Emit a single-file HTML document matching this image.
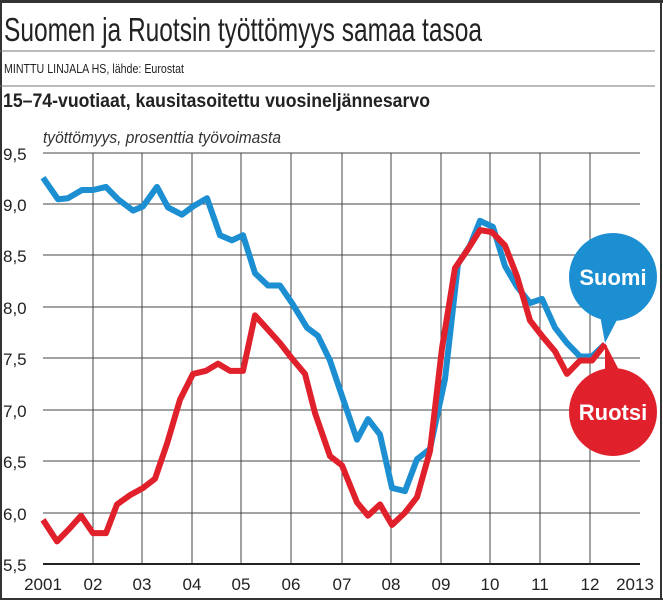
<!DOCTYPE html>
<html><head><meta charset="utf-8"><style>
html,body{margin:0;padding:0;background:#fff}
svg{display:block}
text{font-family:"Liberation Sans",sans-serif}
</style></head><body>
<svg width="663" height="600" viewBox="0 0 663 600">
<rect x="0" y="0" width="663" height="600" fill="#fff"/>
<line x1="0" y1="1.5" x2="663" y2="1.5" stroke="#333" stroke-width="3"/>
<line x1="1" y1="0" x2="1" y2="600" stroke="#333" stroke-width="2"/>
<line x1="661" y1="0" x2="661" y2="600" stroke="#333" stroke-width="2"/>
<line x1="0" y1="599" x2="663" y2="599" stroke="#333" stroke-width="2"/>
<text x="4" y="41" font-size="33" fill="#222" textLength="478" lengthAdjust="spacingAndGlyphs">Suomen ja Ruotsin työttömyys samaa tasoa</text>
<line x1="0" y1="51" x2="655" y2="51" stroke="#777" stroke-width="1"/>
<text x="4" y="73" font-size="13" fill="#222" textLength="180" lengthAdjust="spacingAndGlyphs">MINTTU LINJALA HS, lähde: Eurostat</text>
<line x1="0" y1="86" x2="655" y2="86" stroke="#777" stroke-width="1"/>
<text x="3" y="107" font-size="19" font-weight="bold" fill="#222" textLength="427" lengthAdjust="spacingAndGlyphs">15–74-vuotiaat, kausitasoitettu vuosineljännesarvo</text>
<text x="43" y="143" font-size="17" font-style="italic" fill="#333" textLength="238" lengthAdjust="spacingAndGlyphs">työttömyys, prosenttia työvoimasta</text>
<g stroke="#444" stroke-width="1">
<line x1="43" y1="153" x2="640" y2="153"/><line x1="43" y1="204" x2="640" y2="204"/>
<line x1="43" y1="255" x2="640" y2="255"/><line x1="43" y1="307" x2="640" y2="307"/>
<line x1="43" y1="358" x2="640" y2="358"/><line x1="43" y1="410" x2="640" y2="410"/>
<line x1="43" y1="461" x2="640" y2="461"/><line x1="43" y1="513" x2="640" y2="513"/>
<line x1="93" y1="153" x2="93" y2="564"/><line x1="142" y1="153" x2="142" y2="564"/>
<line x1="192" y1="153" x2="192" y2="564"/><line x1="241" y1="153" x2="241" y2="564"/>
<line x1="291" y1="153" x2="291" y2="564"/><line x1="342" y1="153" x2="342" y2="564"/>
<line x1="391" y1="153" x2="391" y2="564"/><line x1="441" y1="153" x2="441" y2="564"/>
<line x1="490" y1="153" x2="490" y2="564"/><line x1="540" y1="153" x2="540" y2="564"/>
<line x1="590" y1="153" x2="590" y2="564"/>
</g>
<line x1="43" y1="564" x2="640" y2="564" stroke="#222" stroke-width="2"/>
<g font-size="17" fill="#222">
<text x="3" y="160">9,5</text><text x="3" y="211">9,0</text><text x="3" y="262">8,5</text>
<text x="3" y="314">8,0</text><text x="3" y="365">7,5</text><text x="3" y="417">7,0</text>
<text x="3" y="468">6,5</text><text x="3" y="520">6,0</text><text x="3" y="571">5,5</text>
</g>
<g font-size="17" fill="#222" text-anchor="middle">
<text x="43" y="590">2001</text><text x="93" y="590">02</text><text x="142" y="590">03</text>
<text x="192" y="590">04</text><text x="241" y="590">05</text><text x="291" y="590">06</text>
<text x="342" y="590">07</text><text x="391" y="590">08</text><text x="441" y="590">09</text>
<text x="490" y="590">10</text><text x="540" y="590">11</text><text x="590" y="590">12</text>
<text x="635" y="590">2013</text>
</g>
<g transform="translate(0,564) scale(1,-102.75) translate(0,-5.5)" fill="none" stroke-linejoin="round">
<polyline vector-effect="non-scaling-stroke" stroke="#1b8fd2" stroke-width="6" points="43,9.26 58,9.05 68,9.06 82,9.14 93,9.14 106,9.17 118,9.05 133,8.94 143,8.98 157,9.17 168,8.97 182,8.90 193,8.98 207,9.06 220,8.70 232,8.65 243,8.70 255,8.33 268,8.21 280,8.21 292,8.04 307,7.80 318,7.72 330,7.48 345,7.05 357,6.71 368,6.91 380,6.76 392,6.24 405,6.21 417,6.52 430,6.62 445,7.3 458,8.42 470,8.6 480,8.84 493,8.78 505,8.4 517,8.2 530,8.04 542,8.08 555,7.8 567,7.65 580,7.52 592,7.52 605,7.64"/>
<polyline vector-effect="non-scaling-stroke" stroke="#e0212b" stroke-width="6" points="43,5.93 57,5.72 70,5.85 81,5.97 93,5.80 106,5.80 117,6.08 130,6.17 143,6.24 155,6.33 167,6.67 180,7.10 193,7.35 206,7.38 218,7.45 230,7.38 243,7.38 255,7.92 268,7.78 280,7.65 292,7.50 305,7.35 315,6.97 330,6.55 342,6.46 357,6.10 368,5.97 380,6.08 392,5.88 405,6.0 417,6.15 430,6.6 442,7.6 455,8.38 467,8.55 480,8.75 492,8.73 505,8.6 517,8.3 530,7.87 542,7.72 555,7.57 567,7.35 580,7.48 592,7.48 605,7.64"/>
</g>
<path d="M600,315 L605,343 L618,318 Z" fill="#1b8fd2"/>
<circle cx="613" cy="277" r="44" fill="#1b8fd2"/>
<path d="M605,343 L605,375 L620,372 Z" fill="#e0212b"/>
<circle cx="613" cy="412" r="44" fill="#e0212b"/>
<text x="613" y="285" font-size="22" font-weight="bold" fill="#fff" text-anchor="middle">Suomi</text>
<text x="613" y="420" font-size="22" font-weight="bold" fill="#fff" text-anchor="middle">Ruotsi</text>
</svg>
</body></html>
